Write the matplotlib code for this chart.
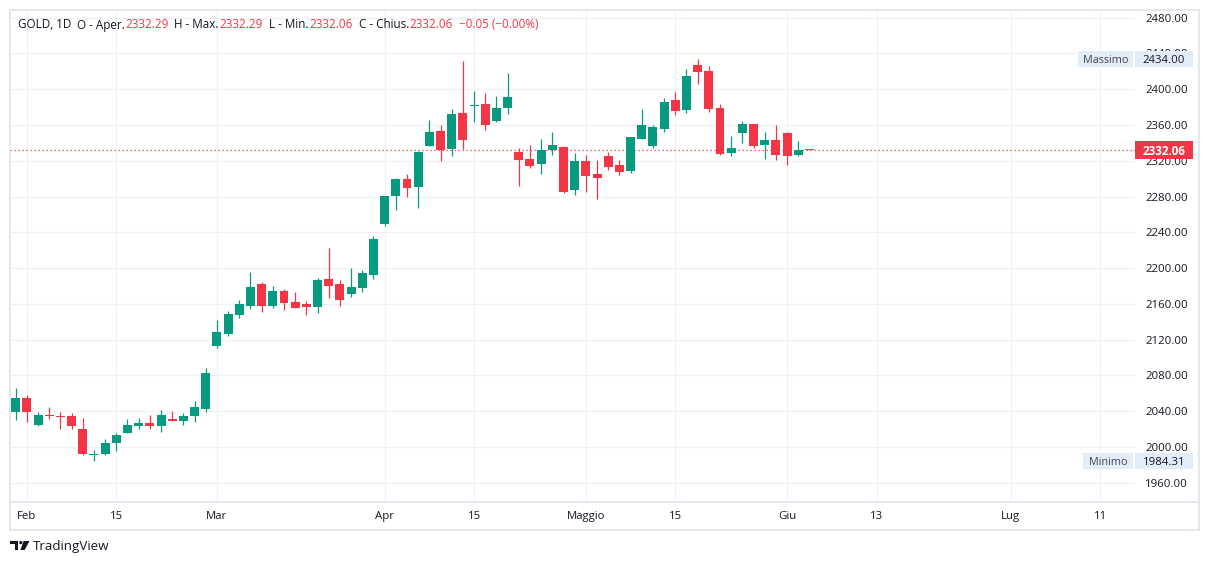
import matplotlib
matplotlib.use("Agg")
import matplotlib.pyplot as plt
import numpy as np
from matplotlib import transforms
from matplotlib.patches import Rectangle, Polygon, Circle
from matplotlib.lines import Line2D

plt.rcParams['font.family'] = ['Open Sans', 'DejaVu Sans']

# daily candles, GOLD 1D (bar index = trading day on the chart)
opens = [2039.5, 2054.8, 2025.0, 2035.8, 2035.0, 2034.5, 2020.1, 1991.4, 1992.5, 2004.8,
         2016.0, 2023.8, 2026.8, 2023.8, 2031.3, 2029.1, 2035.0, 2042.5, 2113.3, 2126.7,
         2147.9, 2157.6, 2182.2, 2157.6, 2174.4, 2162.1, 2159.8, 2156.5, 2187.8, 2182.2,
         2171.0, 2177.7, 2192.3, 2249.6, 2280.9, 2299.6, 2291.0, 2336.8, 2353.2, 2333.5,
         2373.4, 2381.5, 2383.4, 2364.8, 2379.3, 2329.8, 2321.9, 2316.7, 2332.0, 2335.3,
         2287.7, 2319.7, 2305.2, 2325.3, 2315.2, 2308.9, 2344.7, 2336.8, 2355.8, 2387.9,
         2377.1, 2427.0, 2420.3, 2378.9, 2329.0, 2351.4, 2361.1, 2338.0, 2343.2, 2351.0,
         2326.8, 2332.29]
highs = [2066.0, 2058.5, 2039.5, 2044.7, 2039.5, 2038.0, 2032.0, 1996.6, 2008.9, 2015.6,
         2031.3, 2032.4, 2035.8, 2041.4, 2040.2, 2038.0, 2051.4, 2088.3, 2142.0, 2152.0,
         2164.3, 2195.6, 2184.4, 2180.0, 2176.6, 2173.3, 2163.2, 2188.9, 2222.4, 2186.7,
         2200.1, 2197.9, 2235.9, 2281.0, 2301.0, 2305.2, 2330.5, 2365.5, 2359.9, 2377.8,
         2431.5, 2397.9, 2395.7, 2392.4, 2418.1, 2334.2, 2337.6, 2344.3, 2352.1, 2336.5,
         2328.6, 2326.4, 2320.8, 2329.8, 2320.8, 2347.0, 2377.8, 2359.9, 2390.1, 2396.8,
         2422.5, 2434.0, 2425.9, 2383.4, 2347.6, 2364.4, 2361.5, 2352.1, 2359.9, 2352.1,
         2342.0, 2332.29]
lows = [2030.2, 2028.3, 2023.8, 2031.3, 2020.1, 2020.1, 1991.4, 1984.31, 1991.4, 1995.9,
        2015.5, 2020.1, 2020.1, 2017.1, 2029.0, 2024.6, 2027.9, 2039.1, 2111.0, 2124.4,
        2144.6, 2154.3, 2150.9, 2155.4, 2153.1, 2155.0, 2147.6, 2149.8, 2166.6, 2157.6,
        2167.7, 2173.3, 2187.8, 2247.4, 2265.3, 2279.8, 2267.5, 2336.0, 2320.1, 2325.7,
        2333.1, 2363.7, 2354.7, 2363.7, 2372.6, 2292.1, 2312.2, 2305.5, 2326.8, 2284.5,
        2282.1, 2285.4, 2277.6, 2310.0, 2304.4, 2306.7, 2344.5, 2334.6, 2352.5, 2371.5,
        2373.7, 2406.1, 2374.8, 2326.8, 2325.7, 2340.2, 2334.6, 2322.3, 2321.2, 2315.6,
        2325.7, 2332.06]
closes = [2054.8, 2039.5, 2035.8, 2035.0, 2033.6, 2023.8, 1992.5, 1992.4, 2004.5, 2013.4,
          2024.6, 2026.8, 2023.8, 2035.8, 2029.1, 2034.7, 2044.7, 2082.7, 2128.5, 2148.7,
          2159.8, 2178.9, 2157.6, 2174.4, 2161.0, 2155.4, 2156.5, 2186.7, 2180.0, 2164.3,
          2178.9, 2194.5, 2232.5, 2280.6, 2299.6, 2289.9, 2329.8, 2352.1, 2332.4, 2372.2,
          2343.5, 2382.3, 2360.3, 2378.9, 2391.2, 2321.2, 2314.5, 2332.0, 2337.6, 2285.4,
          2319.7, 2303.3, 2301.1, 2313.4, 2307.8, 2346.5, 2359.9, 2357.7, 2385.6, 2375.9,
          2414.7, 2419.2, 2378.2, 2327.9, 2334.2, 2361.1, 2336.8, 2343.2, 2326.8, 2325.7,
          2331.6, 2332.06]

date_ticks = [1, 9, 18, 33, 41, 51, 59, 69, 77, 89, 97]
date_labels = ['Feb', '15', 'Mar', 'Apr', '15', 'Maggio', '15', 'Giu', '13', 'Lug', '11']
price_ticks = list(range(1960, 2481, 40))

last_price = 2332.06
max_price = 2434.00
min_price = 1984.31

GREEN = '#089981'
RED = '#F23645'
TXT = '#131722'
GRID = '#eef0f4'
FRAME = '#e0e3eb'

W, H = 1209, 564
fig = plt.figure(figsize=(W / 100, H / 100), dpi=100)
fig.patch.set_facecolor('white')

ax = fig.add_axes([10 / W, 1 - 501.5 / H, 1125 / W, 491.5 / H])
ax.set_xlim(-0.51, 100.12)
ax.set_ylim(1939.1, 2488.5)
px_per_unit = 491.5 / (2488.5 - 1939.1)

x = np.arange(len(opens))
o = np.array(opens)
c = np.array(closes)
cols = [GREEN if cc >= oo else RED for oo, cc in zip(o, c)]
ax.vlines(x, lows, highs, colors=cols, lw=0.9, zorder=3)
body_h = np.maximum(np.abs(c - o), 1.3)
ax.bar(x, body_h, bottom=np.minimum(o, c), width=0.8, color=cols, lw=0, zorder=4)

ax.axhline(last_price, color=RED, lw=0.9, ls=(0, (1, 2.2)), zorder=2)

ax.set_xticks(date_ticks)
ax.set_xticklabels(date_labels)
ax.set_yticks(price_ticks)
ax.set_yticklabels([f"{p:.2f}" for p in price_ticks])
ax.yaxis.tick_right()
ax.grid(color=GRID, lw=0.8)
ax.set_axisbelow(True)
ax.tick_params(axis='y', length=0, pad=7.5, labelsize=8.2, labelcolor=TXT)
ax.tick_params(axis='x', length=0, pad=6.5, labelsize=8.2, labelcolor=TXT)
for s in ax.spines.values():
    s.set_visible(False)

# frame and time scale separator
fig.add_artist(Rectangle((9.5 / W, 1 - 529.5 / H), 1189 / W, 520 / H,
                         transform=fig.transFigure, fill=False, ec=FRAME, lw=1.2))
fig.add_artist(Line2D([10 / W, 1198.5 / W], [1 - 501.5 / H] * 2,
                      transform=fig.transFigure, color=FRAME, lw=1.2))

# labels on the price scale
trans = transforms.blended_transform_factory(fig.transFigure, ax.transData)


def price_box(price, x0, x1, hpx, fc, text, tc, weight='normal', size=8.2):
    h = hpx / px_per_unit
    ax.add_patch(Rectangle((x0 / W, price - h / 2), (x1 - x0) / W, h, transform=trans,
                           fc=fc, ec='none', clip_on=False, zorder=6))
    ax.text((x0 + x1) / 2 / W, price, text, transform=trans, ha='center', va='center_baseline',
            color=tc, fontsize=size, fontweight=weight, zorder=7)


price_box(max_price, 1078, 1133, 16, '#e3edf9', 'Massimo', '#434651', size=7.8)
price_box(max_price, 1135, 1193, 16, '#e3edf9', f"{max_price:.2f}", TXT)
price_box(min_price, 1083, 1133, 16, '#e3edf9', 'Minimo', '#434651', size=7.8)
price_box(min_price, 1135, 1193, 16, '#e3edf9', f"{min_price:.2f}", TXT)
price_box(last_price, 1135, 1193, 18, RED, f"{last_price:.2f}", 'white', weight='bold', size=8.4)

# legend line on top
segments = [("GOLD, 1D", TXT, 0), ("O - Aper.", TXT, 6), ("2332.29", RED, 0),
            ("H - Max.", TXT, 6), ("2332.29", RED, 0), ("L - Min.", TXT, 7),
            ("2332.06", RED, 0), ("C - Chius.", TXT, 7), ("2332.06", RED, 0),
            ("\u22120.05 (\u22120.00%)", RED, 6)]
renderer = fig.canvas.get_renderer()
xpos = 18
for txt, col, gap in segments:
    xpos += gap
    t = fig.text(xpos / W, 1 - 25 / H, txt, color=col, fontsize=8.4, va='center', ha='left')
    xpos = t.get_window_extent(renderer).x1

# TradingView logo
pix = transforms.Affine2D().scale(1 / W, -1 / H).translate(0, 1) + fig.transFigure
fig.add_artist(Polygon([(10, 541), (18.3, 541), (18.3, 550), (15, 550), (15, 544.2), (10, 544.2)],
                       closed=True, transform=pix, fc=TXT, ec='none'))
fig.add_artist(Circle((20.8, 542.6), 1.6, transform=pix, fc=TXT, ec='none'))
fig.add_artist(Polygon([(23.6, 541), (29.5, 541), (24.6, 550), (20.4, 550)],
                       closed=True, transform=pix, fc=TXT, ec='none'))
fig.text(33 / W, 1 - 546.5 / H, "TradingView", color=TXT, fontsize=9.6, va='center', ha='left')

fig.savefig("out.png", dpi=100, facecolor='white')
